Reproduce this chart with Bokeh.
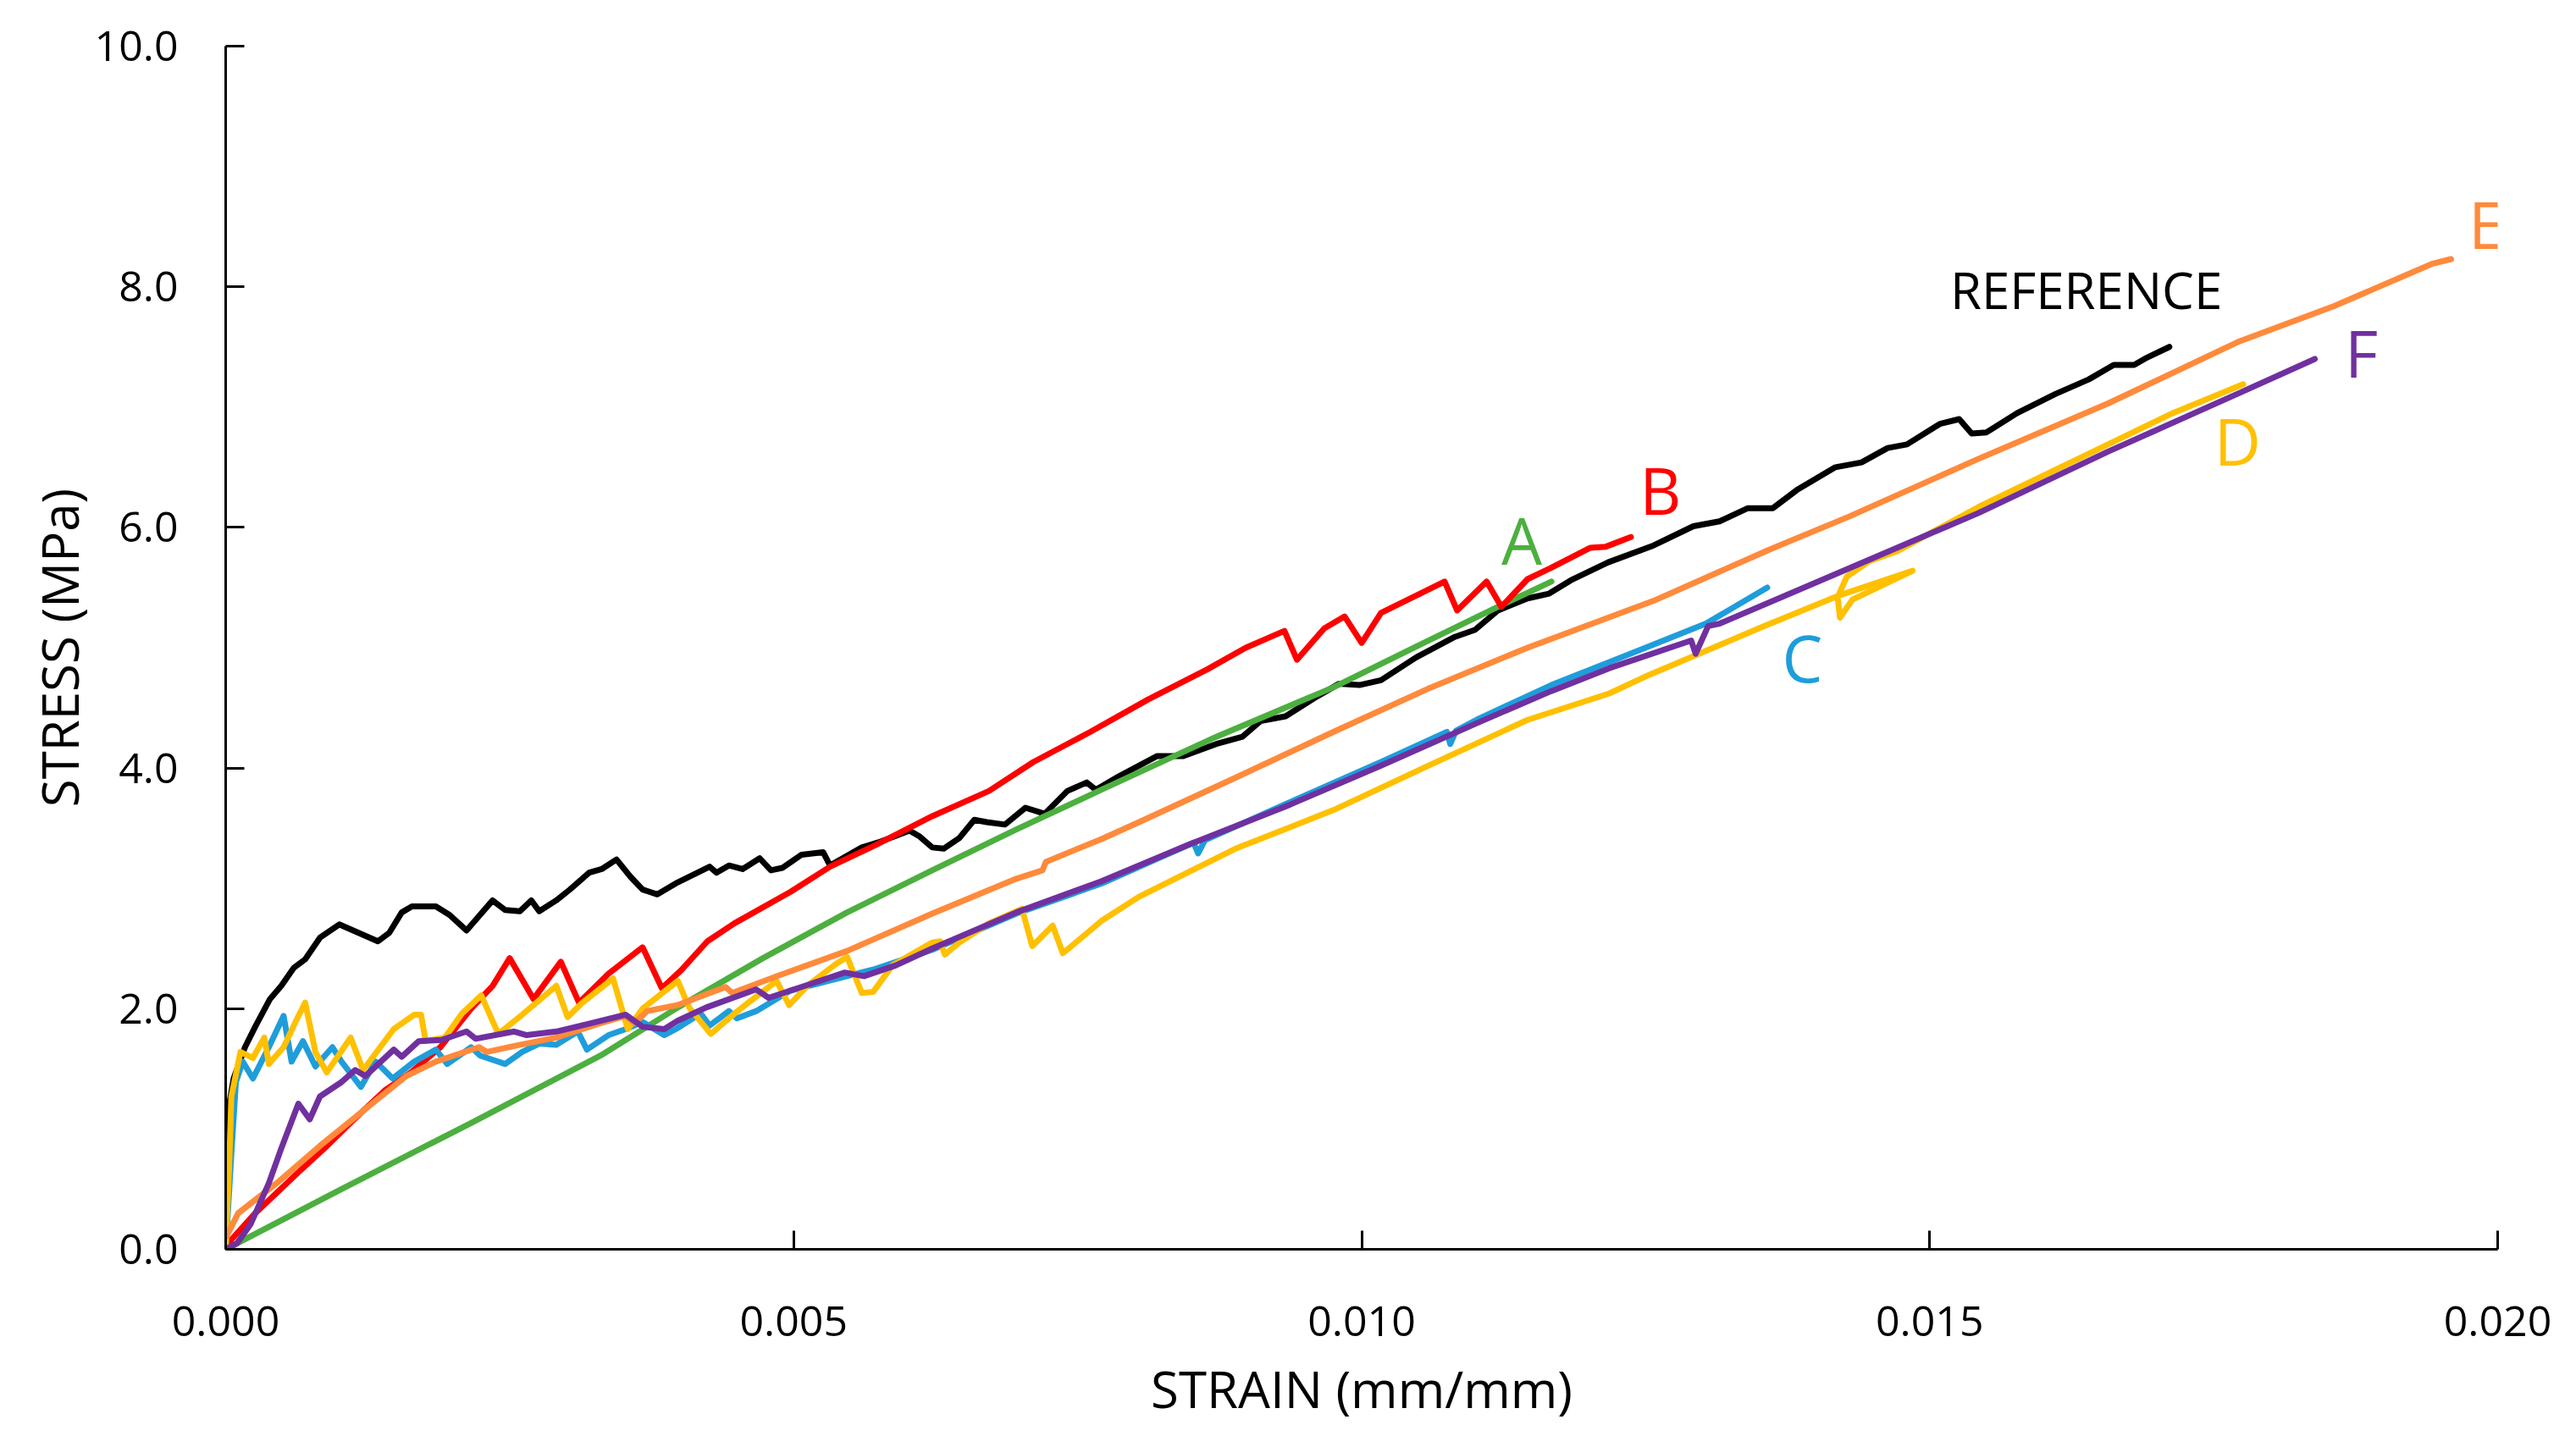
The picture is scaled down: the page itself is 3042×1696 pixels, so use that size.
from bokeh.plotting import figure
from bokeh.models import Range1d, FixedTicker, PrintfTickFormatter, ColumnDataSource, Title
from bokeh.core.properties import value
from bokeh.embed import file_html
from bokeh.resources import INLINE

# ---------------- data ----------------
ref_strain = [0.00000, 0.00003, 0.00007, 0.00017, 0.00026, 0.00039, 0.00049, 0.00060, 0.00070, 0.00083,
              0.00100, 0.00117, 0.00134, 0.00144, 0.00155, 0.00164, 0.00185, 0.00197, 0.00212, 0.00235,
              0.00246, 0.00259, 0.00269, 0.00276, 0.00291, 0.00303, 0.00320, 0.00331, 0.00344, 0.00356,
              0.00367, 0.00380, 0.00398, 0.00426, 0.00432, 0.00443, 0.00455, 0.00470, 0.00480, 0.00490,
              0.00507, 0.00526, 0.00532, 0.00560, 0.00577, 0.00602, 0.00611, 0.00622, 0.00632, 0.00646,
              0.00659, 0.00670, 0.00686, 0.00704, 0.00721, 0.00741, 0.00758, 0.00766, 0.00786, 0.00820,
              0.00843, 0.00872, 0.00895, 0.00911, 0.00933, 0.00958, 0.00980, 0.00998, 0.01017, 0.01048,
              0.01082, 0.01100, 0.01120, 0.01146, 0.01165, 0.01184, 0.01217, 0.01257, 0.01292, 0.01315,
              0.01340, 0.01362, 0.01383, 0.01417, 0.01440, 0.01463, 0.01480, 0.01509, 0.01526, 0.01537,
              0.01550, 0.01577, 0.01611, 0.01640, 0.01662, 0.01680, 0.01691, 0.01711]
ref_stress = [0.55, 1.20, 1.42, 1.68, 1.85, 2.08, 2.19, 2.34, 2.41, 2.59,
              2.70, 2.63, 2.56, 2.63, 2.80, 2.85, 2.85, 2.78, 2.65, 2.90,
              2.82, 2.81, 2.90, 2.81, 2.90, 2.99, 3.13, 3.16, 3.24, 3.10,
              2.99, 2.95, 3.05, 3.18, 3.13, 3.19, 3.16, 3.25, 3.15, 3.17,
              3.28, 3.30, 3.19, 3.34, 3.39, 3.48, 3.43, 3.34, 3.33, 3.42,
              3.57, 3.55, 3.53, 3.67, 3.62, 3.81, 3.88, 3.82, 3.93, 4.10,
              4.10, 4.20, 4.26, 4.39, 4.43, 4.58, 4.70, 4.69, 4.73, 4.92,
              5.09, 5.15, 5.31, 5.41, 5.45, 5.56, 5.71, 5.85, 6.01, 6.05,
              6.16, 6.16, 6.31, 6.50, 6.54, 6.66, 6.69, 6.86, 6.90, 6.78,
              6.79, 6.95, 7.11, 7.23, 7.35, 7.35, 7.41, 7.50]

a_strain = [0.0, 0.00102, 0.00216, 0.00330, 0.00398, 0.00473, 0.00547, 0.00622, 0.00696, 0.00771,
            0.00872, 0.00975, 0.01061, 0.01120, 0.01167]
a_stress = [0.0, 0.50, 1.05, 1.61, 2.01, 2.42, 2.80, 3.15, 3.49, 3.82,
            4.26, 4.67, 5.07, 5.34, 5.55]

b_strain = [0.0, 0.00003, 0.00026, 0.00064, 0.00087, 0.00113, 0.00140, 0.00163, 0.00189, 0.00216,
            0.00235, 0.00250, 0.00271, 0.00295, 0.00311, 0.00337, 0.00367, 0.00384, 0.00401, 0.00424,
            0.00448, 0.00497, 0.00532, 0.00572, 0.00622, 0.00672, 0.00711, 0.00761, 0.00812, 0.00864,
            0.00898, 0.00932, 0.00943, 0.00967, 0.00985, 0.01000, 0.01017, 0.01073, 0.01084, 0.01110,
            0.01123, 0.01146, 0.01166, 0.01201, 0.01215, 0.01237]
b_stress = [0.0, 0.06, 0.30, 0.64, 0.84, 1.08, 1.32, 1.47, 1.68, 2.00,
            2.19, 2.42, 2.08, 2.39, 2.05, 2.29, 2.51, 2.17, 2.32, 2.56,
            2.71, 2.97, 3.18, 3.36, 3.60, 3.81, 4.05, 4.30, 4.57, 4.82,
            5.00, 5.14, 4.90, 5.16, 5.26, 5.04, 5.29, 5.55, 5.31, 5.55,
            5.34, 5.57, 5.66, 5.83, 5.84, 5.92]

c_strain = [0.0, 0.00005, 0.00009, 0.00015, 0.00024, 0.00038, 0.00051, 0.00058, 0.00068, 0.00079,
            0.00094, 0.00102, 0.00119, 0.00132, 0.00147, 0.00166, 0.00185, 0.00195, 0.00216, 0.00224,
            0.00246, 0.00261, 0.00276, 0.00291, 0.00310, 0.00318, 0.00337, 0.00352, 0.00367, 0.00386,
            0.00398, 0.00418, 0.00426, 0.00443, 0.00450, 0.00467, 0.00497, 0.00547, 0.00572, 0.00622,
            0.00696, 0.00771, 0.00852, 0.00856, 0.00862, 0.00933, 0.01017, 0.01075, 0.01078, 0.01083,
            0.01103, 0.01167, 0.01218, 0.01303, 0.01357]
c_stress = [0.0, 0.79, 1.39, 1.56, 1.42, 1.68, 1.94, 1.56, 1.73, 1.52,
            1.68, 1.56, 1.35, 1.56, 1.42, 1.56, 1.66, 1.54, 1.68, 1.61,
            1.54, 1.64, 1.71, 1.70, 1.81, 1.66, 1.78, 1.83, 1.89, 1.78,
            1.84, 1.96, 1.86, 1.98, 1.92, 1.98, 2.15, 2.27, 2.33, 2.49,
            2.79, 3.04, 3.38, 3.29, 3.40, 3.70, 4.05, 4.30, 4.20, 4.31,
            4.41, 4.69, 4.88, 5.20, 5.50]

d_strain = [0.0, 0.00003, 0.00005, 0.00013, 0.00024, 0.00034, 0.00038, 0.00051, 0.00062, 0.00070,
            0.00079, 0.00089, 0.00110, 0.00121, 0.00148, 0.00166, 0.00172, 0.00176, 0.00193, 0.00208,
            0.00225, 0.00240, 0.00261, 0.00291, 0.00301, 0.00314, 0.00341, 0.00354, 0.00367, 0.00398,
            0.00408, 0.00427, 0.00448, 0.00460, 0.00485, 0.00496, 0.00512, 0.00537, 0.00547, 0.00560,
            0.00570, 0.00587, 0.00622, 0.00629, 0.00633, 0.00646, 0.00672, 0.00701, 0.00710, 0.00728,
            0.00737, 0.00771, 0.00804, 0.00889, 0.00975, 0.01061, 0.01146, 0.01218, 0.01252, 0.01352,
            0.01419, 0.01485, 0.01432, 0.01421, 0.01419, 0.01427, 0.01447, 0.01471, 0.01543, 0.01657,
            0.01714, 0.01776]
d_stress = [0.0, 0.67, 1.27, 1.64, 1.59, 1.76, 1.54, 1.68, 1.90, 2.05,
            1.64, 1.47, 1.76, 1.49, 1.83, 1.95, 1.95, 1.73, 1.76, 1.96,
            2.11, 1.79, 1.95, 2.19, 1.93, 2.05, 2.25, 1.83, 2.00, 2.23,
            2.01, 1.79, 1.96, 2.05, 2.23, 2.03, 2.19, 2.37, 2.43, 2.13,
            2.14, 2.36, 2.55, 2.56, 2.45, 2.55, 2.71, 2.83, 2.52, 2.69,
            2.46, 2.73, 2.93, 3.33, 3.65, 4.03, 4.40, 4.62, 4.77, 5.17,
            5.43, 5.64, 5.40, 5.25, 5.42, 5.59, 5.72, 5.80, 6.17, 6.69,
            6.95, 7.19]

e_strain = [0.0, 0.00003, 0.00011, 0.00045, 0.00083, 0.00121, 0.00159, 0.00185, 0.00223, 0.00230,
            0.00254, 0.00291, 0.00330, 0.00352, 0.00360, 0.00371, 0.00398, 0.00440, 0.00446, 0.00485,
            0.00547, 0.00622, 0.00696, 0.00719, 0.00722, 0.00771, 0.00804, 0.00889, 0.00975, 0.01061,
            0.01146, 0.01257, 0.01360, 0.01429, 0.01543, 0.01657, 0.01771, 0.01856, 0.01942, 0.01959]
e_stress = [0.10, 0.15, 0.30, 0.55, 0.86, 1.15, 1.44, 1.56, 1.68, 1.64,
            1.69, 1.76, 1.88, 1.94, 1.88, 1.98, 2.03, 2.18, 2.13, 2.27,
            2.48, 2.79, 3.08, 3.15, 3.22, 3.41, 3.55, 3.92, 4.30, 4.67,
            5.00, 5.39, 5.82, 6.09, 6.57, 7.03, 7.54, 7.84, 8.19, 8.23]

f_strain = [0.0, 0.00010, 0.00022, 0.00038, 0.00049, 0.00064, 0.00074, 0.00083, 0.00102, 0.00114,
            0.00123, 0.00148, 0.00155, 0.00170, 0.00190, 0.00212, 0.00220, 0.00254, 0.00265, 0.00291,
            0.00322, 0.00352, 0.00367, 0.00386, 0.00398, 0.00423, 0.00467, 0.00478, 0.00510, 0.00545,
            0.00562, 0.00590, 0.00622, 0.00696, 0.00771, 0.00847, 0.00933, 0.01017, 0.01103, 0.01167,
            0.01218, 0.01290, 0.01294, 0.01305, 0.01315, 0.01429, 0.01543, 0.01657, 0.01771, 0.01839]
f_stress = [0.0, 0.05, 0.21, 0.55, 0.84, 1.21, 1.08, 1.27, 1.39, 1.49,
            1.44, 1.66, 1.60, 1.73, 1.74, 1.81, 1.75, 1.81, 1.78, 1.81,
            1.88, 1.95, 1.85, 1.83, 1.90, 2.01, 2.16, 2.09, 2.19, 2.30,
            2.27, 2.36, 2.50, 2.80, 3.06, 3.36, 3.68, 4.02, 4.38, 4.64,
            4.83, 5.06, 4.95, 5.18, 5.20, 5.66, 6.12, 6.63, 7.11, 7.40]

x_ticks = [0.0, 0.005, 0.010, 0.015, 0.020]
y_ticks = [0.0, 2.0, 4.0, 6.0, 8.0, 10.0]

series_names = ["REFERENCE", "A", "B", "C", "D", "E", "F"]

# ---------------- styling ----------------
FONT = "Open Sans"
colors = {"REFERENCE": "#000000", "A": "#4CAF3F", "B": "#FF0000", "C": "#1F9DDB",
          "D": "#FFC000", "E": "#FF8A3B", "F": "#7030A0"}
series = {"REFERENCE": (ref_strain, ref_stress), "A": (a_strain, a_stress), "B": (b_strain, b_stress),
          "C": (c_strain, c_stress), "D": (d_strain, d_stress), "E": (e_strain, e_stress),
          "F": (f_strain, f_stress)}
draw_order = ["REFERENCE", "A", "B", "C", "D", "E", "F"]

p = figure(width=3042, height=1696, x_range=Range1d(0, 0.02), y_range=Range1d(0, 10),
           output_backend="svg", toolbar_location=None,
           min_border_left=266, min_border_right=93, min_border_top=54, min_border_bottom=221)
p.outline_line_color = None
p.grid.visible = False
p.background_fill_color = "white"
p.border_fill_color = "white"

for name in draw_order:
    xs, ys = series[name]
    p.line(xs, ys, line_color=colors[name], line_width=7, line_join="round", line_cap="round")

# axes
for ax in (p.xaxis[0], p.yaxis[0]):
    ax.axis_line_color = "black"
    ax.axis_line_width = 3
    ax.major_tick_line_color = "black"
    ax.major_tick_line_width = 3
    ax.major_tick_in = 22
    ax.major_tick_out = 0
    ax.minor_tick_line_color = None
    ax.major_label_text_font = FONT
    ax.major_label_text_font_size = "50px"
    ax.major_label_text_color = "black"
    ax.axis_label_text_font = FONT
    ax.axis_label_text_font_size = "60px"
    ax.axis_label_text_font_style = "normal"
    ax.axis_label_text_color = "black"

p.xaxis.ticker = FixedTicker(ticks=x_ticks)
p.yaxis.ticker = FixedTicker(ticks=y_ticks)
p.xaxis.formatter = PrintfTickFormatter(format="%.3f")
p.yaxis.formatter = PrintfTickFormatter(format="%.1f")
p.yaxis.axis_label = "STRESS (MPa)"
p.xaxis.major_label_standoff = 67
p.yaxis.major_label_standoff = 56
p.yaxis.axis_label_standoff = -2

# x-axis title as a title panel below the axis
p.add_layout(Title(text="STRAIN (mm/mm)", align="center", text_font=FONT, text_font_size="60px",
                   text_font_style="normal", text_color="black", standoff=32, offset=0), "below")

# curve labels (annotation placement)
letters = ["A", "B", "C", "D", "E", "F"]
letter_x = [0.01141, 0.01263, 0.01388, 0.01771, 0.01990, 0.01880]
letter_y = [5.90, 6.31, 4.92, 6.72, 8.52, 7.45]
src = ColumnDataSource(dict(x=letter_x, y=letter_y, t=letters, c=[colors[k] for k in letters]))
p.text(x="x", y="y", text="t", text_color="c", source=src, text_font=value(FONT),
       text_font_size=value("76px"), text_align="center", text_baseline="middle")
p.text(x=[0.01518], y=[7.98], text=["REFERENCE"], text_color="#000000", text_font=value(FONT),
       text_font_size=value("60px"), text_align="left", text_baseline="middle")

open("out.html", "w").write(file_html(p, INLINE))
